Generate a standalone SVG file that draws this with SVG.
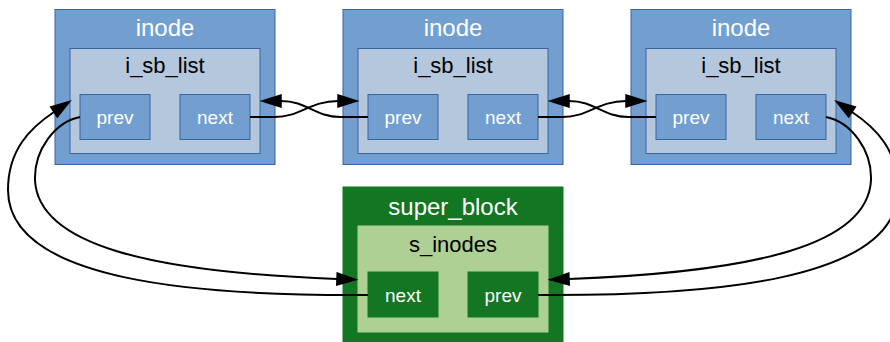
<svg xmlns="http://www.w3.org/2000/svg" width="890" height="342" viewBox="0 0 890 342">
<style>
.outer{fill:#729fcf;stroke:#3465a4;stroke-width:1}
.inner{fill:#b4c7dc;stroke:#3465a4;stroke-width:1}
.field{fill:#729fcf;stroke:#3465a4;stroke-width:1}
.gouter{fill:#127622;stroke:#127622;stroke-width:1}
.ginner{fill:#afd095;stroke:#afd095;stroke-width:1}
.gfield{fill:#127622;stroke:#127622;stroke-width:1}
text{font-family:"Liberation Sans",Arial,sans-serif;text-anchor:middle}
.title{font-size:24px;fill:#ffffff}
.sub{font-size:22px;fill:#000000}
.ft{font-size:19px;fill:#ffffff}
.edge{fill:none;stroke:#000000;stroke-width:2}
</style>
<defs>
<marker id="arrow" viewBox="-2 -2 24 16" refX="0" refY="6" markerWidth="24" markerHeight="16" markerUnits="userSpaceOnUse" orient="auto" overflow="visible">
<path d="M0,0 L19,6 L0,12 z" fill="#000000" stroke="#000000" stroke-width="1.5"/>
</marker>
</defs>
<g id="inode1">
<rect class="outer" x="55" y="9.5" width="220" height="155"/>
<text class="title" x="165" y="36">inode</text>
<rect class="inner" x="70" y="48.5" width="190" height="105"/>
<text class="sub" x="165" y="73">i_sb_list</text>
<rect class="field" x="80" y="94.5" width="70" height="45"/>
<text class="ft" x="115" y="124">prev</text>
<rect class="field" x="180" y="94.5" width="70" height="45"/>
<text class="ft" x="215" y="124">next</text>
</g>
<g id="inode2">
<rect class="outer" x="343" y="9.5" width="220" height="155"/>
<text class="title" x="453" y="36">inode</text>
<rect class="inner" x="358" y="48.5" width="190" height="105"/>
<text class="sub" x="453" y="73">i_sb_list</text>
<rect class="field" x="368" y="94.5" width="70" height="45"/>
<text class="ft" x="403" y="124">prev</text>
<rect class="field" x="468" y="94.5" width="70" height="45"/>
<text class="ft" x="503" y="124">next</text>
</g>
<g id="inode3">
<rect class="outer" x="631" y="9.5" width="220" height="155"/>
<text class="title" x="741" y="36">inode</text>
<rect class="inner" x="646" y="48.5" width="190" height="105"/>
<text class="sub" x="741" y="73">i_sb_list</text>
<rect class="field" x="656" y="94.5" width="70" height="45"/>
<text class="ft" x="691" y="124">prev</text>
<rect class="field" x="756" y="94.5" width="70" height="45"/>
<text class="ft" x="791" y="124">next</text>
</g>
<g id="super_block">
<rect class="gouter" x="343" y="187" width="220" height="155"/>
<text class="title" x="453" y="215">super_block</text>
<rect class="ginner" x="358" y="226" width="190" height="106"/>
<text class="sub" x="453" y="252">s_inodes</text>
<rect class="gfield" x="368" y="272" width="70" height="45"/>
<text class="ft" x="403" y="302">next</text>
<rect class="gfield" x="468" y="272" width="70" height="45"/>
<text class="ft" x="503" y="302">prev</text>
</g>
<g id="connectors">
<path class="edge" marker-end="url(#arrow)" d="M250,117 L275,117 C300,117 310,101 338,101"/>
<path class="edge" marker-end="url(#arrow)" d="M368,117 L340,117 C315,117 307,101 281,101"/>
<path class="edge" marker-end="url(#arrow)" d="M538,117 L563,117 C588,117 598,101 626,101"/>
<path class="edge" marker-end="url(#arrow)" d="M656,117 L628,117 C603,117 595,101 569,101"/>
<path class="edge" marker-end="url(#arrow)" d="M80,117 C55,122 34,150 35,180 C38,245 150,272 337,279"/>
<path class="edge" marker-end="url(#arrow)" d="M368,295 C200,296 8,282 8,190 C8,150 30,128 54,112"/>
<path class="edge" marker-end="url(#arrow)" d="M826,117 C851,122 872,150 871,180 C868,245 756,272 569,279"/>
<path class="edge" marker-end="url(#arrow)" d="M538,295 C706,296 898,282 898,190 C898,150 876,128 852,112"/>
</g>
</svg>
